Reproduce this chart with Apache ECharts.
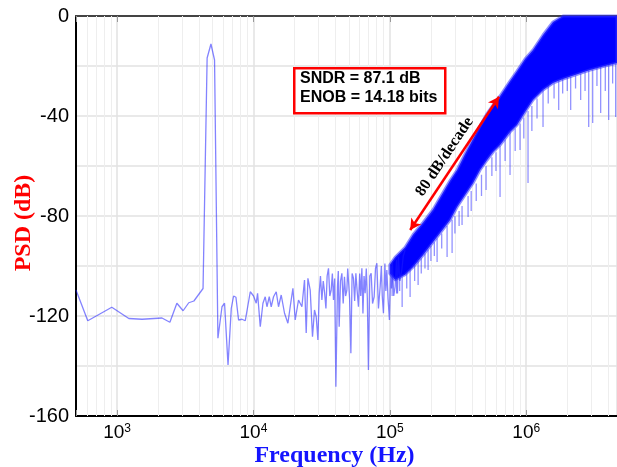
<!DOCTYPE html>
<html>
<head>
<meta charset="utf-8">
<script src="https://cdn.jsdelivr.net/npm/echarts@6/dist/echarts.min.js"></script>
<style>
  html, body { margin: 0; padding: 0; background: #fff; }
  #chart { width: 617px; height: 467px; }
</style>
</head>
<body>
<div id="chart"></div>
<script>
// sparse part of the spectrum (Hz, dB)
const lowFreq = [500, 610, 915, 1220, 1525, 2135, 2440, 2745, 3050, 3355, 3660, 4270, 4575, 4880, 5185, 5490,
  5880, 6140, 6510, 6880, 7150, 7440, 7780, 8240, 8710, 9480, 10020, 10480, 10720, 11220, 11740, 12200,
  12560, 13060, 13500, 14040, 14690, 15270, 15980, 16900, 17890, 18600, 19470, 20240, 21400, 22660, 23680,
  24370, 25080, 26070, 27100, 28030, 28850, 29690,
  30350, 31000, 31760, 32500, 33190, 34000, 34700, 35500, 36300, 37150, 37900, 38620, 39400, 40220, 41320,
  41900, 42520, 43500, 44500, 45500, 46490, 47400, 48420, 49100, 49740, 50700, 51800, 52900, 54120, 55200,
  56360, 57600, 58880, 60100, 61200, 62370, 63500, 64700, 65920, 67200, 68400, 69690, 71300, 72950, 74700,
  76740, 78500, 80330, 82500, 84910, 86700, 88000, 89770, 92000, 93500, 95060, 97000, 99330, 101500, 103000,
  104500, 106800, 109300, 112000, 113800, 115600, 118500, 122400, 125500, 129500];
const lowPsd = [-109.6, -121.9, -116.5, -121, -121.3, -120.8, -122.5, -114.9, -117.9, -114.7, -114, -109, -16.8, -11.2, -17.6, -128.9,
  -116.3, -114.9, -139.6, -116.9, -112, -112.5, -121.6, -121.3, -121.9, -110.3, -112, -114.9, -110.9, -124.3, -114.9, -112.3,
  -116.3, -112.3, -116.3, -112.3, -110.3, -116.3, -111.6, -118.9, -122.9, -116.3, -108.9, -121.6, -113.6, -116.3, -105.6,
  -126.8, -104.9, -109.6, -128.3, -117.6, -120.3, -129.6,
  -110.9, -104, -113.6, -106, -110.3, -117, -104, -100.9, -112, -109.6, -103, -113.6, -105, -148.3, -108.3,
  -102, -124.3, -106, -102.9, -115, -104.3, -112, -109.6, -101, -105.6, -113, -134.9, -103, -104.9, -114,
  -102.9, -110, -116.3, -103, -112, -100.9, -119, -104, -110.9, -101, -113, -141.6, -104, -102.9, -115,
  -112.3, -101, -98.9, -117, -108.3, -100, -112, -118.9, -99, -110, -101.6, -113, -121.6, -100, -109,
  -98.9, -112, -108.3, -97.5, -111, -96.3, -106, -101.6, -96, -93.6];

// dense noise-shaped region: upper and lower edge of the solid band
const bandFreq = [100000, 109300, 129500, 148200, 175400, 207600, 233700, 276600, 311200, 356100, 407600, 458700,
  516300, 571300, 642900, 760900, 856200, 980000, 1121000, 1328000, 1572000, 1860000, 2278000, 2934000, 3779000, 4630000];
const bandTop = [-99.5, -96.5, -92.5, -87.4, -82.6, -77.4, -72.6, -65.8, -61.6, -55.2, -49.2, -44,
  -39, -35.6, -32, -26, -22, -17.2, -13.6, -7.6, -2.4, 0, 0, 0, 0, 0];
const bandBottom = [-103, -105.5, -103.5, -100.4, -95.6, -90.4, -86.8, -81.6, -76.4, -71.6, -66.8, -61.6,
  -57.6, -54.4, -51.6, -46.4, -43.6, -38.4, -33.6, -29.6, -26.8, -25.2, -23.6, -21.6, -20, -18.8];

// downward spikes hanging below the band
const spikeFreq = [104000, 112000, 118000, 123100, 133000, 140800, 152000, 161200, 170000, 181000, 190800, 200000,
  212000, 222100, 240000, 262900, 286100, 300000, 322000, 338500, 374700, 395000, 430000, 470000, 507700, 560000,
  600000, 642900, 700000, 760900, 830000, 900700, 960000, 1031000, 1100000, 1200000, 1328000, 1450000, 1600000,
  1730000, 1850000, 2000000, 2118000, 2300000, 2507000, 2700000, 2871000, 3071000, 3300000, 3514000, 3800000,
  4022000, 4300000, 4527000];
const spikeTop = [-104, -104, -104, -103.5, -102, -101, -99.5, -98, -97, -95, -93.5, -92,
  -90.5, -89, -87, -84, -81.5, -80, -78, -76, -72, -70, -67, -63.5, -60, -56.5,
  -54.5, -52, -49.5, -46.4, -45, -43, -40.6, -38, -36, -33, -29.6, -28, -27,
  -26, -25.2, -24.8, -24.4, -23.8, -23, -22.4, -21.8, -21.4, -20.8, -20.4, -19.8,
  -19.6, -19.2, -19];
const spikeLow = [-112, -111, -110, -116.4, -109, -112.4, -106, -107.6, -103, -101, -101.6, -98,
  -96, -98.4, -93, -96.4, -94.8, -87, -84, -83.6, -80.4, -78, -74, -72, -69.6, -64,
  -62, -72.4, -58, -63.6, -54, -53.6, -49, -66.8, -46, -41, -44.4, -35, -33,
  -37.6, -31, -30, -37.6, -29, -33.6, -30, -44.4, -42.8, -28, -38.8, -30,
  -41.6, -27, -40.4];

const minorSteps = [2, 3, 4, 5, 6, 7, 8, 9];
const decadeStarts = [100, 1000, 10000, 100000, 1000000];
const xMin = 500;
const xMax = 4630000;
const slopeArrow = [[141000, -85.6], [632000, -32.3]];
const slopeText = '80 dB/decade';
const noteLines = ['SNDR = 87.1 dB', 'ENOB = 14.18 bits'];

const sans = 'Liberation Sans, Arial, sans-serif';
const serif = 'Liberation Serif, Times New Roman, serif';

const minorGrid = [];
decadeStarts.forEach(function (d) {
  minorSteps.forEach(function (s) {
    const v = d * s;
    if (v > xMin && v < xMax) minorGrid.push({ xAxis: v });
  });
});

const chart = echarts.init(document.getElementById('chart'));

const option = {
  animation: false,
  backgroundColor: '#fff',
  grid: { left: 76, right: 0, top: 16, bottom: 51, outerBoundsMode: 'none', containLabel: false },
  xAxis: [
    {
      type: 'log',
      logBase: 10,
      min: xMin,
      max: xMax,
      name: 'Frequency (Hz)',
      nameLocation: 'middle',
      nameGap: 28,
      nameMoveOverlap: false,
      nameTextStyle: { fontFamily: serif, fontWeight: 'bold', fontSize: 24, color: '#1414ff', padding: [0, 24, 0, 0] },
      axisLine: { onZero: false, lineStyle: { color: '#000', width: 2 } },
      axisTick: { show: true, inside: true, length: 6, lineStyle: { color: '#999' } },
      axisLabel: {
        margin: 7,
        formatter: function (v) {
          const e = Math.round(Math.log10(v));
          if (Math.abs(v - Math.pow(10, e)) > 1e-6 * v) return '';
          return '{b|10}{s|' + e + '}';
        },
        rich: {
          b: { fontFamily: sans, fontSize: 19, color: '#000' },
          s: { fontFamily: sans, fontSize: 12, color: '#000', verticalAlign: 'top' }
        }
      },
      splitLine: { show: true, lineStyle: { color: '#e2e2e2', width: 1.5 } }
    },
    {
      type: 'log',
      logBase: 10,
      min: xMin,
      max: xMax,
      position: 'top',
      axisLine: { onZero: false, lineStyle: { color: '#444', width: 2 } },
      axisTick: { show: true, inside: true, length: 6, lineStyle: { color: '#999' } },
      axisLabel: { show: false },
      splitLine: { show: false }
    }
  ],
  yAxis: {
    type: 'value',
    min: -160,
    max: 0,
    interval: 20,
    name: 'PSD (dB)',
    nameLocation: 'middle',
    nameGap: 40,
    nameMoveOverlap: false,
    nameTextStyle: { fontFamily: serif, fontWeight: 'bold', fontSize: 24, color: '#ff0000', padding: [0, 14, 0, 0] },
    axisLine: { onZero: false, lineStyle: { color: '#000', width: 2 } },
    axisTick: { show: false },
    axisLabel: {
      margin: 7,
      fontFamily: sans,
      fontSize: 20,
      color: '#000',
      formatter: function (v) { return v % 40 === 0 ? String(v) : ''; }
    },
    splitLine: { show: true, lineStyle: { color: '#e2e2e2', width: 1.5 } }
  },
  series: [
    {
      type: 'line',
      z: 3,
      data: lowFreq.map(function (f, i) { return [f, lowPsd[i]]; }),
      symbol: 'none',
      lineStyle: { color: 'rgba(30,30,255,0.55)', width: 1.3 },
      markLine: {
        silent: true,
        z: 1,
        symbol: 'none',
        label: { show: false },
        lineStyle: { color: '#eeeeee', width: 1, type: 'solid' },
        data: minorGrid
      }
    },
    {
      type: 'custom',
      z: 3,
      data: bandFreq.map(function (f, i) { return [f, bandTop[i], bandBottom[i]]; }),
      encode: { x: 0, y: [1, 2] },
      renderItem: function (params, api) {
        if (params.dataIndex !== 0) return null;
        const pts = [];
        for (let i = 0; i < bandFreq.length; i++) pts.push(api.coord([bandFreq[i], bandTop[i]]));
        for (let i = bandFreq.length - 1; i >= 0; i--) pts.push(api.coord([bandFreq[i], bandBottom[i]]));
        return {
          type: 'polygon',
          shape: { points: pts },
          style: { fill: '#0000ff', stroke: 'rgba(50,50,255,0.55)', lineWidth: 3, lineJoin: 'round' }
        };
      }
    },
    {
      type: 'custom',
      z: 2,
      data: spikeFreq.map(function (f, i) { return [f, spikeTop[i], spikeLow[i]]; }),
      encode: { x: 0, y: [1, 2] },
      renderItem: function (params, api) {
        const a = api.coord([api.value(0), api.value(1)]);
        const b = api.coord([api.value(0), api.value(2)]);
        return {
          type: 'line',
          shape: { x1: a[0], y1: a[1], x2: b[0], y2: b[1] },
          style: { stroke: 'rgba(40,40,255,0.5)', lineWidth: 1.3 }
        };
      }
    },
    {
      type: 'line',
      z: 5,
      data: [],
      markLine: {
        silent: true,
        z: 6,
        symbol: ['arrow', 'arrow'],
        symbolSize: [9, 11],
        lineStyle: { color: '#ff0000', width: 2.5, type: 'solid' },
        label: {
          show: true,
          position: 'insideMiddleTop',
          formatter: slopeText,
          fontFamily: serif,
          fontWeight: 'bold',
          fontSize: 16,
          color: '#000',
          distance: 4
        },
        data: [[{ coord: slopeArrow[0] }, { coord: slopeArrow[1] }]]
      }
    }
  ],
  graphic: [
    { type: 'rect', z: 100, left: 293, top: 67, shape: { width: 151, height: 45 }, style: { fill: '#fff', stroke: '#ff0000', lineWidth: 2.5 } },
    { type: 'text', z: 101, left: 300, top: 71, style: { text: noteLines[0], font: 'bold 16px ' + sans, fill: '#000' } },
    { type: 'text', z: 101, left: 300, top: 90, style: { text: noteLines[1], font: 'bold 16px ' + sans, fill: '#000' } }
  ]
};

chart.setOption(option);
</script>
</body>
</html>
